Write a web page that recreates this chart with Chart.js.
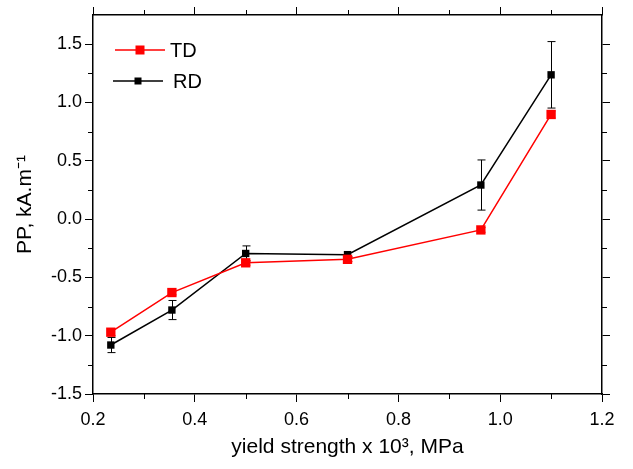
<!DOCTYPE html>
<html>
<head>
<meta charset="utf-8">
<script src="https://cdn.jsdelivr.net/npm/chart.js@4"></script>
<style>
  html, body { margin: 0; padding: 0; background: #fff; }
  #wrap { width: 633px; height: 469px; }
</style>
</head>
<body>
<div id="wrap"><canvas id="ppChart" width="633" height="469"></canvas></div>
<script>
// yield strength (x 10^3 MPa)
const strengthTD = [0.235, 0.355, 0.5, 0.7, 0.962, 1.1];
const strengthRD = [0.235, 0.355, 0.5, 0.7, 0.962, 1.1];
// PP, kA/m
const ppTD = [-0.97, -0.63, -0.375, -0.345, -0.093, 0.897];
const ppRD = [-1.08, -0.78, -0.295, -0.305, 0.292, 1.237];
// error bar half-widths
const errTD = [0.03, 0.02, 0.02, 0.02, 0.02, 0.03];
const errRD = [0.065, 0.082, 0.065, 0.02, 0.215, 0.285];

const xMajor = 0.2, xMinor = 0.1;
const yMajor = 0.5, yMinor = 0.25;
const FONT = 'Arial, "Liberation Sans", sans-serif';

const toPoints = (xs, ys) => xs.map((x, i) => ({ x: x, y: ys[i] }));

// vertical error bars with caps, drawn under the markers
const errorBars = {
    id: 'errorBars',
    beforeDatasetsDraw(chart) {
        const ctx = chart.ctx;
        const xs = chart.scales.x, ys = chart.scales.y;
        const sets = [[strengthRD, ppRD, errRD, '#000'], [strengthTD, ppTD, errTD, '#ff0000']];
        ctx.save();
        ctx.lineWidth = 1;
        sets.forEach(([xv, yv, ev, col]) => {
            ctx.strokeStyle = col;
            xv.forEach((x, i) => {
                const px = Math.round(xs.getPixelForValue(x)) + 0.5;
                const top = ys.getPixelForValue(yv[i] + ev[i]);
                const bot = ys.getPixelForValue(yv[i] - ev[i]);
                ctx.beginPath();
                ctx.moveTo(px, top); ctx.lineTo(px, bot);
                ctx.moveTo(px - 4, top); ctx.lineTo(px + 4, top);
                ctx.moveTo(px - 4, bot); ctx.lineTo(px + 4, bot);
                ctx.stroke();
            });
        });
        ctx.restore();
    }
};

// minor ticks on all four sides
const minorTicks = {
    id: 'minorTicks',
    afterDraw(chart) {
        const ctx = chart.ctx;
        const xs = chart.scales.x, ys = chart.scales.y;
        const a = chart.chartArea;
        const len = 5;
        ctx.save();
        ctx.strokeStyle = '#000';
        ctx.lineWidth = 1;
        ctx.beginPath();
        for (let v = xs.min + xMinor; v < xs.max - 1e-9; v += xMajor) {
            const px = Math.round(xs.getPixelForValue(v)) + 0.5;
            ctx.moveTo(px, a.bottom); ctx.lineTo(px, a.bottom + len);
            ctx.moveTo(px, a.top); ctx.lineTo(px, a.top - len);
        }
        for (let v = ys.min + yMinor; v < ys.max - 1e-9; v += yMajor) {
            const py = Math.round(ys.getPixelForValue(v)) + 0.5;
            ctx.moveTo(a.left, py); ctx.lineTo(a.left - len, py);
            ctx.moveTo(a.right, py); ctx.lineTo(a.right + len, py);
        }
        ctx.stroke();
        ctx.restore();
    }
};

// legend in the upper left of the plot
const boxLegend = {
    id: 'boxLegend',
    afterDraw(chart) {
        const ctx = chart.ctx;
        const rows = [
            { label: 'TD', color: '#ff0000', y: 50, x0: 115, x1: 165, side: 9, tx: 170 },
            { label: 'RD', color: '#000000', y: 81, x0: 113, x1: 163, side: 7, tx: 173 }
        ];
        ctx.save();
        rows.forEach(r => {
            ctx.strokeStyle = r.color;
            ctx.fillStyle = r.color;
            ctx.lineWidth = 1.5;
            ctx.beginPath();
            ctx.moveTo(r.x0, r.y); ctx.lineTo(r.x1, r.y);
            ctx.stroke();
            const cx = (r.x0 + r.x1) / 2;
            ctx.fillRect(cx - r.side / 2, r.y - r.side / 2, r.side, r.side);
            ctx.fillStyle = '#000';
            ctx.font = '20px ' + FONT;
            ctx.textBaseline = 'middle';
            ctx.fillText(r.label, r.tx, r.y + 1);
        });
        ctx.restore();
    }
};

const tickFont = { family: FONT, size: 18 };
const titleFont = { family: FONT, size: 21 };
const axisGrid = { drawOnChartArea: false, tickLength: 8, color: '#000', tickColor: '#000', lineWidth: 1 };
const axisBorder = { display: true, color: '#000', width: 1.5 };

new Chart(document.getElementById('ppChart').getContext('2d'), {
    type: 'line',
    data: {
        datasets: [{
            label: 'TD',
            data: toPoints(strengthTD, ppTD),
            borderColor: '#ff0000',
            backgroundColor: '#ff0000',
            borderWidth: 1.5,
            pointStyle: 'rect',
            pointRadius: 6.6,
            pointBorderWidth: 0,
            tension: 0
        }, {
            label: 'RD',
            data: toPoints(strengthRD, ppRD),
            borderColor: '#000000',
            backgroundColor: '#000000',
            borderWidth: 1.5,
            pointStyle: 'rect',
            pointRadius: 5.2,
            pointBorderWidth: 0,
            tension: 0
        }]
    },
    options: {
        responsive: false,
        animation: false,
        layout: { padding: 0 },
        plugins: { legend: { display: false }, tooltip: { enabled: false } },
        scales: {
            x: {
                type: 'linear', position: 'bottom', min: 0.2, max: 1.2,
                ticks: { stepSize: xMajor, color: '#000', font: tickFont, padding: 7,
                    callback: v => v.toFixed(1) },
                grid: axisGrid, border: axisBorder,
                title: { display: true, text: 'yield strength x 10³, MPa', color: '#000',
                    font: titleFont, padding: { top: 4, bottom: 9 } },
                afterFit: s => { s.height = 75; }
            },
            x2: {
                type: 'linear', position: 'top', min: 0.2, max: 1.2,
                ticks: { stepSize: xMajor, display: false },
                grid: axisGrid, border: axisBorder,
                afterFit: s => { s.height = 15; }
            },
            y: {
                type: 'linear', position: 'left', min: -1.5, max: 1.75,
                ticks: { stepSize: yMajor, color: '#000', font: tickFont, padding: 3,
                    callback: v => (Math.abs(v % 0.5) < 1e-9 ? v.toFixed(1) : '') },
                afterBuildTicks: s => { s.ticks = s.ticks.filter(t => t.value <= 1.5 + 1e-9); },
                grid: axisGrid, border: axisBorder,
                title: { display: true, text: 'PP, kA.m⁻¹', color: '#000',
                    font: titleFont, padding: { top: 13, bottom: 0 } },
                afterFit: s => { s.width = 93; }
            },
            y2: {
                type: 'linear', position: 'right', min: -1.5, max: 1.75,
                ticks: { stepSize: yMajor, display: false },
                afterBuildTicks: s => { s.ticks = s.ticks.filter(t => t.value <= 1.5 + 1e-9); },
                grid: axisGrid, border: axisBorder,
                afterFit: s => { s.width = 31; }
            }
        }
    },
    plugins: [errorBars, minorTicks, boxLegend]
});
</script>
</body>
</html>
